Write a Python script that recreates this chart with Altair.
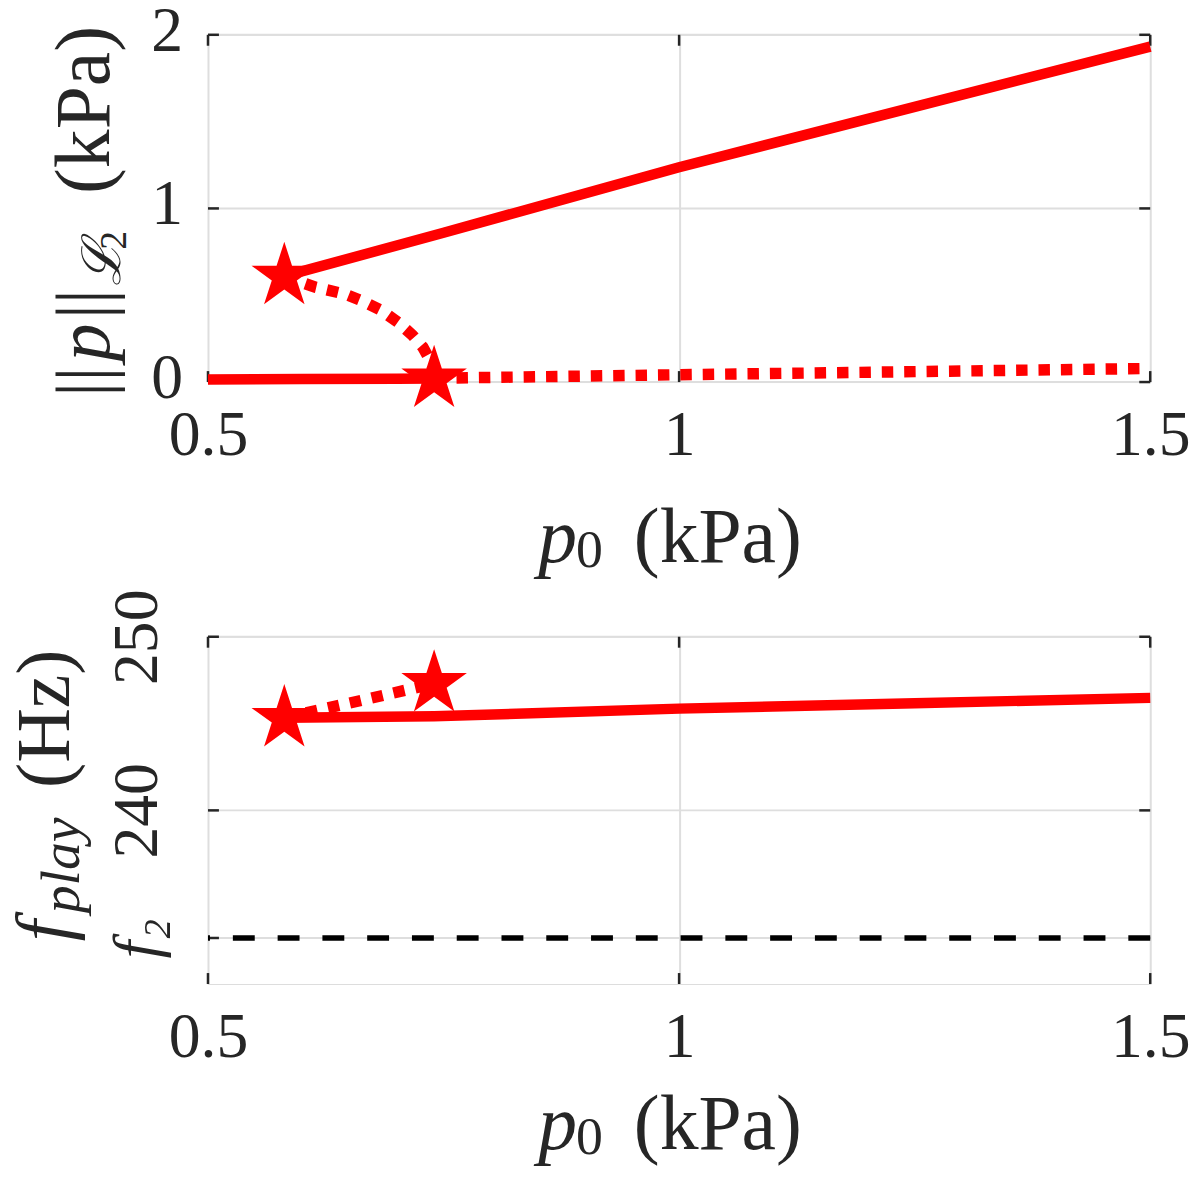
import altair as alt
import pandas as pd

# ---------------- data ----------------
# top panel: amplitude ||p||_L2 (kPa) vs blowing pressure p0 (kPa)
x_amp_stable_hi = [0.581, 0.75, 1.0, 1.25, 1.5]
y_amp_stable_hi = [0.61, 0.86, 1.237, 1.585, 1.932]
x_amp_stable_lo = [0.5, 0.6, 0.7, 0.74]
y_amp_stable_lo = [0.015, 0.017, 0.019, 0.02]
x_amp_unst_curve = [0.581, 0.614, 0.6456, 0.662, 0.6835, 0.7015, 0.717, 0.728, 0.735, 0.74, 0.74]
y_amp_unst_curve = [0.609, 0.546, 0.506, 0.471, 0.414, 0.345, 0.270, 0.201, 0.132, 0.069, 0.02]
x_amp_unst_lo = [0.74, 1.0, 1.25, 1.5]
y_amp_unst_lo = [0.022, 0.042, 0.060, 0.078]
x_bif = [0.581, 0.74]
y_bif_amp = [0.609, 0.017]

# bottom panel: playing frequency (Hz)
x_frq_stable = [0.581, 0.74, 1.0, 1.25, 1.5]
y_frq_stable = [245.33, 245.42, 245.86, 246.17, 246.48]
x_frq_unst = [0.581, 0.66, 0.74]
y_frq_unst = [245.33, 246.30, 247.30]
y_bif_frq = [245.29, 247.30]
f2 = 232.65

x_ticks = [0.5, 1.0, 1.5]
y_ticks_amp = [0.0, 1.0, 2.0]
y_tick_labels_amp = ["0", "1", "2"]
y_ticks_frq = [f2, 240.0, 250.0]

# ---------------- styling ----------------
W, H = 947, 349
RED = "#ff0000"
INK = "#262626"
GRID = "#dedede"
FONT = "Liberation Serif, DejaVu Serif, serif"
TICK_FS = 64
TITLE_FS = 78
SUB_FS = 56
LW = 10.5
DOT = [11.5, 11]
TL = 11  # inward tick length
STAR = ("M0,-1L0.2245,-0.309L0.9511,-0.309L0.3633,0.118L0.5878,0.809L0,0.382"
        "L-0.5878,0.809L-0.3633,0.118L-0.9511,-0.309L-0.2245,-0.309Z")
STAR_SIZE = 4800


def df(xs, ys):
    return pd.DataFrame({"x": xs, "y": ys, "i": list(range(len(xs)))})


def txt(s, x, y, size, style="normal", angle=0):
    return alt.Chart(pd.DataFrame({"t": [s]})).mark_text(
        align="left", baseline="alphabetic", angle=angle, font=FONT,
        fontSize=size, fontStyle=style, color=INK
    ).encode(x=alt.value(x), y=alt.value(y), text="t:N")


xaxis = alt.Axis(values=x_ticks, tickCount=10, format="~g", title=None, grid=True,
                 gridColor=GRID, gridWidth=2, ticks=False, domain=False, labelFont=FONT,
                 labelFontSize=TICK_FS, labelColor=INK, labelPadding=22, labelFlush=False,
                 labelOverlap=False, labelBound=False)
X = alt.X("x:Q", scale=alt.Scale(domain=[0.5, 1.5], nice=False, zero=False), axis=xaxis)


def panel(ydomain, yaxis, lines, dotted, stars, yticks, extra, texts):
    Y = alt.Y("y:Q", scale=alt.Scale(domain=ydomain, nice=False, zero=False), axis=yaxis)
    layers = []
    tx = pd.DataFrame({"x": x_ticks})
    ty = pd.DataFrame({"y": yticks})
    # horizontal grid lines
    layers.append(alt.Chart(ty).mark_rule(color=GRID, strokeWidth=2).encode(y=Y))
    # inward ticks on all four sides
    tick = dict(color=INK, strokeWidth=2.5)
    layers.append(alt.Chart(tx).mark_rule(**tick).encode(x=X, y=alt.value(0), y2=alt.value(TL)))
    layers.append(alt.Chart(tx).mark_rule(**tick).encode(x=X, y=alt.value(H - TL), y2=alt.value(H)))
    layers.append(alt.Chart(ty).mark_rule(**tick).encode(y=Y, x=alt.value(0), x2=alt.value(TL)))
    layers.append(alt.Chart(ty).mark_rule(**tick).encode(y=Y, x=alt.value(W - TL), x2=alt.value(W)))
    layers += extra(Y)
    for d in lines:
        layers.append(alt.Chart(d).mark_line(color=RED, strokeWidth=LW, strokeCap="butt",
                                             strokeJoin="round").encode(x=X, y=Y, order="i:Q"))
    for d in dotted:
        layers.append(alt.Chart(d).mark_line(color=RED, strokeWidth=LW + 1, strokeDash=DOT,
                                             strokeCap="butt").encode(x=X, y=Y, order="i:Q"))
    layers.append(alt.Chart(stars).mark_point(shape=STAR, size=STAR_SIZE, filled=True, color=RED,
                                              opacity=1, strokeWidth=0).encode(x=X, y=Y))
    layers += texts
    return alt.layer(*layers).properties(width=W, height=H)


# ---------------- top panel ----------------
yaxis_amp = alt.Axis(values=y_ticks_amp, title=None, grid=False, ticks=False, domain=False,
                     labels=False)


def amp_labels(Y):
    d = pd.DataFrame({"y": y_ticks_amp, "lab": y_tick_labels_amp})
    return [alt.Chart(d).mark_text(align="right", baseline="alphabetic", dy=16, font=FONT,
                                   fontSize=TICK_FS, color=INK).encode(
        y=Y, x=alt.value(-25), text="lab:N")]


bx = -99
texts_top = [
    txt("||", bx, 364, 76, angle=270),
    txt("p", bx, 328, 76, "italic", angle=270),
    txt("||", bx, 286, 76, angle=270),
    txt("ℒ", bx + 11, 252, SUB_FS - 2, "italic", angle=270),
    txt("2", bx + 17, 216, 38, angle=270),
    txt("(kPa)", bx, 160, TITLE_FS, angle=270),
    txt("p", 332, 530, TITLE_FS, "italic"),
    txt("0", 370, 535, SUB_FS - 2),
    txt("(kPa)", 428, 530, TITLE_FS),
]
top = panel(
    [0, 2], yaxis_amp,
    [df(x_amp_stable_hi, y_amp_stable_hi), df(x_amp_stable_lo, y_amp_stable_lo)],
    [df(x_amp_unst_curve, y_amp_unst_curve), df(x_amp_unst_lo, y_amp_unst_lo)],
    pd.DataFrame({"x": x_bif, "y": y_bif_amp}),
    y_ticks_amp, amp_labels, texts_top,
)

# ---------------- bottom panel ----------------
yaxis_frq = alt.Axis(values=y_ticks_frq, tickCount=10, title=None, grid=False,
                     ticks=False, domain=False, labelFont=FONT,
                     labelFontSize=TICK_FS, labelColor=INK, labelPadding=52, labelAngle=270,
                     labelAlign="center", labelBaseline="alphabetic", labelFlush=False,
                     labelOverlap=False, labelBound=False,
                     labelExpr="datum.value < 235 ? 'f₂' : format(datum.value, 'd')",
                     labelFontStyle={"condition": {"test": "datum.value < 235", "value": "italic"},
                                     "value": "normal"})


def f2_line(Y):
    return [alt.Chart(pd.DataFrame({"y": [f2]})).mark_rule(
        color="black", strokeWidth=5.5, strokeDash=[22, 23]).encode(y=Y)]


by = -140
texts_bot = [
    txt("f", by, 306, 76, "italic", angle=270),
    txt("play", by + 10, 278, SUB_FS, "italic", angle=270),
    txt("(Hz)", by, 152, 76, angle=270),
    txt("p", 332, 515, TITLE_FS, "italic"),
    txt("0", 370, 520, SUB_FS - 2),
    txt("(kPa)", 428, 515, TITLE_FS),
]
bottom = panel(
    [230, 250], yaxis_frq,
    [df(x_frq_stable, y_frq_stable)],
    [df(x_frq_unst, y_frq_unst)],
    pd.DataFrame({"x": x_bif, "y": y_bif_frq}),
    y_ticks_frq, f2_line, texts_bot,
)

chart = alt.vconcat(top, bottom, spacing=256, bounds="flush").properties(
    autosize=alt.AutoSizeParams(type="none"),
    padding={"left": 201, "top": 24, "right": 42, "bottom": 1136},
).configure_view(stroke=INK, strokeWidth=2.5).configure(background="white")

chart.save("out.html", embed_options={"renderer": "svg", "actions": False})
